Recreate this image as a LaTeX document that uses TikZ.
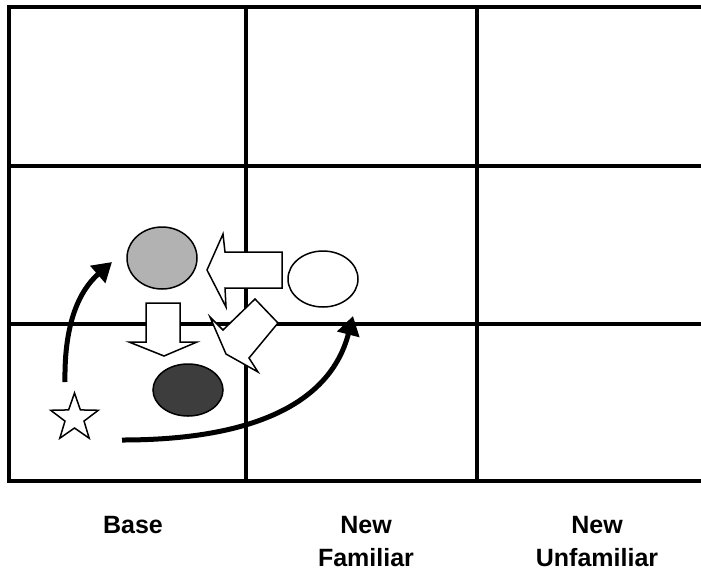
\documentclass[tikz,border=0pt]{standalone}
\usepackage{fontspec}
\setmainfont{Liberation Sans}
\usepackage{tikz}
\usetikzlibrary{arrows.meta,positioning,shapes.geometric}

\begin{document}
\begin{tikzpicture}[
  x=1pt, y=-1pt,
  gridline/.style={line width=4pt, line cap=rect},
  obj/.style={draw, ellipse, line width=1.5pt, inner sep=0pt, minimum width=70pt},
  blockarrow/.style={draw, fill=white, line width=1.5pt, line join=miter},
  curvearrow/.style={line width=5pt, -{Triangle[length=19pt, width=22pt]}},
  lbl/.style={font=\bfseries\fontsize{25}{33}\selectfont, align=center, anchor=north, inner sep=0pt}]
  \useasboundingbox (0,0) rectangle (701,571);
  % grid of three columns
  \foreach \y in {7,166,324,481} \draw[gridline] (9,\y) -- (710,\y);
  \foreach \x in {9,246,477} \draw[gridline] (\x,7) -- (\x,481);
  % objects
  \node[obj, minimum height=62pt, fill=black!30] (lightobj) at (162,258) {};
  \node[obj, minimum height=56pt, fill=white] (newobj) at (323,279) {};
  \node[obj, minimum height=52pt, fill=black!76] (darkobj) at (188,390) {};
  \node[draw, star, star points=5, star point ratio=2.5, minimum size=50pt, inner sep=0pt, line width=1.5pt, fill=white] (star1) at (74.5,418) {};
  % block arrows
  \draw[blockarrow] (207,270) -- (223,234) -- (225,252) -- (282,252) -- (282,288) -- (225,288) -- (226,307) -- cycle;
  \draw[blockarrow] (146,303) -- (180,303) -- (180,342) -- (197,342) -- (164,356) -- (129,342) -- (146,342) -- cycle;
  \draw[blockarrow] (255,299) -- (278,323) -- (249,358) -- (258,372) -- (226,354) -- (210,317) -- (223,330) -- cycle;
  % movement arrows
  \coordinate (upstart) at (65,382);
  \coordinate (upend) at (112,262);
  \coordinate (rightstart) at (122,440);
  \coordinate (rightend) at (353,316);
  \draw[curvearrow] (upstart) .. controls (64,322) and (80,290) .. (upend);
  \draw[curvearrow] (rightstart) .. controls (250,440) and (330,405) .. (rightend);
  % column labels
  \node[lbl] (base) at (133,516) {Base};
  \node[lbl] (familiar) at (366,516) {New\\Familiar};
  \node[lbl] (unfamiliar) at (597,516) {New\\Unfamiliar};
\end{tikzpicture}
\end{document}
